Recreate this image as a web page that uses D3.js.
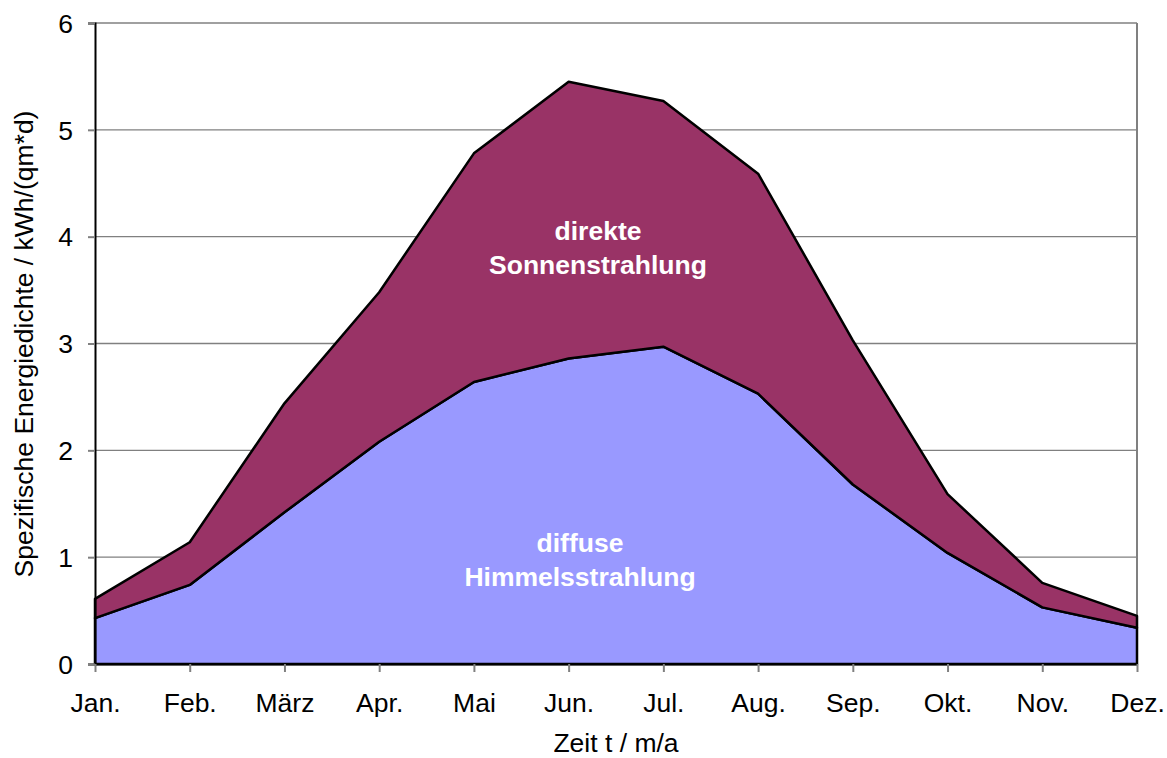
<!DOCTYPE html>
<html>
<head>
<meta charset="utf-8">
<script src="https://cdn.jsdelivr.net/npm/d3@7"></script>
<style>
  html, body { margin: 0; padding: 0; background: #fff; }
  svg { display: block; font-family: "Liberation Sans", Arial, sans-serif; }
</style>
</head>
<body>
<svg id="chart" width="1167" height="758"></svg>
<script>
// Monatswerte der spezifischen Energiedichte in kWh/(qm*d)
const months = ["Jan.", "Feb.", "März", "Apr.", "Mai", "Jun.", "Jul.", "Aug.", "Sep.", "Okt.", "Nov.", "Dez."];
const diffuse = [0.43, 0.74, 1.42, 2.08, 2.64, 2.86, 2.97, 2.53, 1.68, 1.04, 0.53, 0.34];
const direkt  = [0.18, 0.40, 1.02, 1.40, 2.14, 2.59, 2.30, 2.06, 1.35, 0.55, 0.23, 0.11];
const yTicks = [0, 1, 2, 3, 4, 5, 6];

const FS = 26.5;

const rows = months.map((m, i) => ({ month: m, diffuse: diffuse[i], direkt: direkt[i] }));
const stack = d3.stack().keys(["diffuse", "direkt"])(rows);

const svg = d3.select("#chart");
const m = { left: 95, right: 1137, top: 23, bottom: 664 };

const x = d3.scalePoint().domain(months).range([m.left, m.right]);
const y = d3.scaleLinear().domain([0, 6]).range([m.bottom, m.top]);

// Gitterlinien
svg.append("g")
  .selectAll("line")
  .data(yTicks.filter(v => v > 0))
  .join("line")
  .attr("x1", m.left).attr("x2", m.right)
  .attr("y1", d => y(d)).attr("y2", d => y(d))
  .attr("stroke", "#808080").attr("stroke-width", 1.3);

// Rahmen rechts
svg.append("line")
  .attr("x1", m.right).attr("x2", m.right)
  .attr("y1", m.top).attr("y2", m.bottom)
  .attr("stroke", "#808080").attr("stroke-width", 2);

// Gestapelte Flächen
const colors = { diffuse: "#9999ff", direkt: "#993366" };
const area = d3.area()
  .x(d => x(d.data.month))
  .y0(d => y(d[0]))
  .y1(d => y(d[1]));

svg.append("g")
  .selectAll("path")
  .data(stack)
  .join("path")
  .attr("d", area)
  .attr("fill", d => colors[d.key])
  .attr("stroke", "#000")
  .attr("stroke-width", 2.5)
  .attr("stroke-linejoin", "round");

// Achsen
const yAxis = svg.append("g")
  .attr("transform", `translate(${m.left},0)`)
  .call(d3.axisLeft(y).tickValues(yTicks).tickFormat(d3.format("d")).tickSize(7).tickPadding(15));
yAxis.select(".domain").attr("stroke", "#000").attr("stroke-width", 2);
yAxis.selectAll(".tick line").attr("stroke", "#808080").attr("stroke-width", 2);
yAxis.selectAll("text").attr("font-size", FS).attr("fill", "#000").attr("dy", "0.35em");
yAxis.attr("font-family", null).attr("font-size", FS);

const xAxis = svg.append("g")
  .attr("transform", `translate(0,${m.bottom})`)
  .call(d3.axisBottom(x).tickSize(8).tickPadding(21).tickSizeOuter(0));
xAxis.select(".domain").attr("stroke", "#000").attr("stroke-width", 2);
xAxis.selectAll(".tick line").attr("stroke", "#808080").attr("stroke-width", 2);
xAxis.selectAll("text").attr("font-size", FS).attr("fill", "#000");
xAxis.attr("font-family", null).attr("font-size", FS);

// Achsentitel
svg.append("text")
  .attr("x", 616).attr("y", 752)
  .attr("text-anchor", "middle").attr("font-size", FS)
  .text("Zeit t / m/a");

svg.append("text")
  .attr("transform", "translate(33,344) rotate(-90)")
  .attr("text-anchor", "middle").attr("font-size", FS)
  .text("Spezifische Energiedichte / kWh/(qm*d)");

// Flächenbeschriftungen
const labels = [
  { lines: ["direkte", "Sonnenstrahlung"], cx: 598, y0: 240 },
  { lines: ["diffuse", "Himmelsstrahlung"], cx: 580, y0: 552 }
];
labels.forEach(l => {
  const t = svg.append("text")
    .attr("text-anchor", "middle").attr("font-size", FS)
    .attr("font-weight", "bold").attr("fill", "#fff");
  l.lines.forEach((s, i) => {
    t.append("tspan").attr("x", l.cx).attr("y", l.y0 + i * 33.5).text(s);
  });
});
</script>
</body>
</html>
